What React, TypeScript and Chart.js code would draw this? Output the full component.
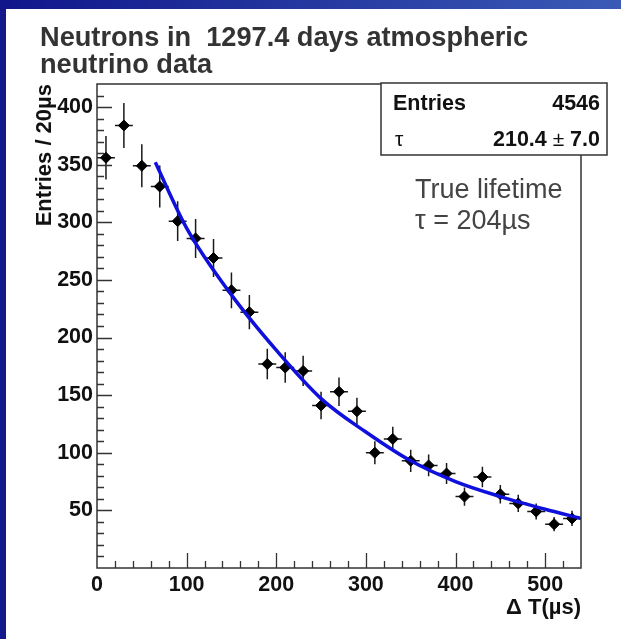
import React, { useEffect, useRef } from "react";
import { Chart, registerables } from "chart.js";

Chart.register(...registerables);

// ---- data ----
const binCenters = [10, 30, 50, 70, 90, 110, 130, 150, 170, 190, 210, 230, 250, 270, 290, 310, 330, 350, 370, 390, 410, 430, 450, 470, 490, 510, 530];
const counts = [356, 384, 349, 331, 301, 286, 269, 241, 222, 177, 174, 171, 141, 153, 136, 100, 112, 93, 89, 82, 62, 79, 64, 56, 49, 38, 43];
const countErrors = [18.9, 19.6, 18.7, 18.2, 17.3, 16.9, 16.4, 15.5, 14.9, 13.3, 13.2, 13.1, 11.9, 12.4, 11.7, 10, 10.6, 9.6, 9.4, 9.1, 7.9, 8.9, 8, 7.5, 7, 6.2, 6.6];
const binHalfWidth = 10;

const fitX = [65, 100, 150, 200, 250, 300, 350, 400, 450, 500, 540];
const fitY = [352, 295, 237, 189, 147, 118, 93, 75, 62, 51, 43];

const xTicks = [0, 100, 200, 300, 400, 500];
const yTicks = [50, 100, 150, 200, 250, 300, 350, 400];

const titleLines = ["Neutrons in  1297.4 days atmospheric", "neutrino data"];
const xTitle = "\u0394 T(\u00b5s)";
const yTitle = "Entries / 20\u00b5s";
const statsEntries = "4546";
const statsTau = "210.4";
const statsTauErr = "7.0";
const noteLines = ["True lifetime", "\u03c4 = 204\u00b5s"];

const FONT = '"Liberation Sans", Arial, Helvetica, sans-serif';

const decorPlugin = {
  id: "decor",
  beforeDatasetsDraw(chart: any) {
    const ctx = chart.ctx;
    const xs = chart.scales.x;
    const ys = chart.scales.y;
    ctx.save();
    ctx.strokeStyle = "#1a1a1a";
    ctx.lineWidth = 1.5;
    for (let i = 0; i < binCenters.length; i++) {
      const px = xs.getPixelForValue(binCenters[i]);
      const py = ys.getPixelForValue(counts[i]);
      const yTop = ys.getPixelForValue(counts[i] + countErrors[i]);
      const yBot = ys.getPixelForValue(counts[i] - countErrors[i]);
      const xL = xs.getPixelForValue(binCenters[i] - binHalfWidth);
      const xR = xs.getPixelForValue(binCenters[i] + binHalfWidth);
      ctx.beginPath();
      ctx.moveTo(px, yTop);
      ctx.lineTo(px, yBot);
      ctx.moveTo(xL, py);
      ctx.lineTo(xR, py);
      ctx.stroke();
    }
    ctx.restore();
  },
  afterDraw(chart: any) {
    const ctx = chart.ctx;
    const xs = chart.scales.x;
    const ys = chart.scales.y;
    const { left, right, top, bottom } = chart.chartArea;
    ctx.save();

    // frame
    ctx.strokeStyle = "#333";
    ctx.lineWidth = 1.5;
    ctx.strokeRect(left, top, right - left, bottom - top);

    // inner ticks
    ctx.strokeStyle = "#333";
    ctx.lineWidth = 1.3;
    ctx.beginPath();
    for (let v = 10; v < 420; v += 10) {
      const y = Math.round(ys.getPixelForValue(v)) + 0.5;
      const len = v % 50 === 0 ? 15 : 7;
      ctx.moveTo(left, y);
      ctx.lineTo(left + len, y);
    }
    for (let v = 20; v < 540; v += 20) {
      const x = Math.round(xs.getPixelForValue(v)) + 0.5;
      const len = v % 100 === 0 ? 15 : 7;
      ctx.moveTo(x, bottom);
      ctx.lineTo(x, bottom - len);
    }
    ctx.stroke();

    // title
    ctx.fillStyle = "#333";
    ctx.font = `bold 27.2px ${FONT}`;
    ctx.textAlign = "left";
    ctx.textBaseline = "alphabetic";
    ctx.fillText(titleLines[0], 34, 37);
    ctx.fillText(titleLines[1], 34, 64);

    // stats box
    const bx = 375, by = 74, bw = 226, bh = 72;
    ctx.fillStyle = "#fff";
    ctx.fillRect(bx, by, bw, bh);
    ctx.strokeStyle = "#333";
    ctx.lineWidth = 1.5;
    ctx.strokeRect(bx, by, bw, bh);
    ctx.fillStyle = "#111";
    ctx.font = `bold 21.5px ${FONT}`;
    ctx.textAlign = "left";
    ctx.fillText("Entries", 387, 101);
    ctx.textAlign = "right";
    ctx.fillText(statsEntries, 594, 101);
    // tau row
    ctx.textAlign = "left";
    ctx.font = `21px ${FONT}`;
    ctx.fillText("\u03c4", 389, 137);
    ctx.font = `bold 21.5px ${FONT}`;
    const wErr = ctx.measureText(statsTauErr).width;
    ctx.font = `21px ${FONT}`;
    const pm = "\u00b1 ";
    const wPm = ctx.measureText(pm).width;
    ctx.font = `bold 21.5px ${FONT}`;
    const val = statsTau + " ";
    const wVal = ctx.measureText(val).width;
    const x0 = 594 - wErr - wPm - wVal;
    ctx.fillText(val, x0, 137);
    ctx.font = `21px ${FONT}`;
    ctx.fillText(pm, x0 + wVal, 137);
    ctx.font = `bold 21.5px ${FONT}`;
    ctx.fillText(statsTauErr, x0 + wVal + wPm, 137);

    // annotation
    ctx.fillStyle = "#444";
    ctx.font = `27px ${FONT}`;
    ctx.textAlign = "left";
    ctx.fillText(noteLines[0], 409, 189);
    ctx.fillText(noteLines[1], 409, 220);

    ctx.restore();
  },
};

export default function App() {
  const ref = useRef<HTMLCanvasElement | null>(null);

  useEffect(() => {
    if (!ref.current) return;
    const tickFont = { family: FONT, size: 21.5, weight: "bold" as const };
    const chart = new Chart(ref.current, {
      type: "scatter",
      data: {
        datasets: [
          {
            label: "data",
            data: binCenters.map((x, i) => ({ x, y: counts[i] })),
            pointStyle: "rectRot",
            pointRadius: 5.5,
            backgroundColor: "#000",
            borderColor: "#000",
            borderWidth: 1,
            showLine: false,
            order: 1,
          },
          {
            label: "fit",
            data: fitX.map((x, i) => ({ x, y: fitY[i] })),
            showLine: true,
            pointRadius: 0,
            borderColor: "#1010dc",
            borderWidth: 3.5,
            cubicInterpolationMode: "monotone",
            fill: false,
            order: 0,
          },
        ],
      },
      options: {
        animation: false,
        responsive: false,
        devicePixelRatio: 1,
        events: [],
        layout: { padding: { top: 75, right: 40, left: 0, bottom: 0 } },
        plugins: {
          legend: { display: false },
          tooltip: { enabled: false },
          title: { display: false },
        },
        scales: {
          x: {
            type: "linear",
            min: 0,
            max: 540,
            afterFit: (s: any) => {
              s.height = 71;
            },
            afterBuildTicks: (s: any) => {
              s.ticks = xTicks.map((v) => ({ value: v }));
            },
            grid: { display: false, drawTicks: false },
            border: { display: false },
            ticks: {
              font: tickFont,
              color: "#111",
              padding: 4,
              maxRotation: 0,
              autoSkip: false,
            },
            title: {
              display: true,
              text: xTitle,
              align: "end",
              color: "#111",
              font: { family: FONT, size: 22, weight: "bold" },
              padding: { top: 0, bottom: 18 },
            },
          },
          y: {
            type: "linear",
            min: 0,
            max: 420,
            afterFit: (s: any) => {
              s.width = 91;
            },
            afterBuildTicks: (s: any) => {
              s.ticks = yTicks.map((v) => ({ value: v }));
            },
            grid: { display: false, drawTicks: false },
            border: { display: false },
            ticks: {
              font: tickFont,
              color: "#111",
              padding: 4,
              autoSkip: false,
            },
            title: {
              display: true,
              text: yTitle,
              align: "end",
              color: "#111",
              font: { family: FONT, size: 22, weight: "bold" },
              padding: { top: 26, bottom: 0 },
            },
          },
        },
      },
      plugins: [decorPlugin],
    } as any);
    return () => chart.destroy();
  }, []);

  return (
    <div
      style={{
        position: "fixed",
        left: 0,
        top: 0,
        width: 621,
        height: 639,
        background: "#13188a",
        overflow: "hidden",
      }}
    >
      <div
        style={{
          position: "absolute",
          left: 0,
          top: 0,
          width: 621,
          height: 9,
          background: "linear-gradient(to right, #10168a, #3a5ab6)",
        }}
      />
      <div
        style={{
          position: "absolute",
          left: 6,
          top: 9,
          width: 615,
          height: 630,
          background: "#fff",
        }}
      >
        <canvas ref={ref} width={615} height={630} style={{ display: "block" }} />
      </div>
    </div>
  );
}
